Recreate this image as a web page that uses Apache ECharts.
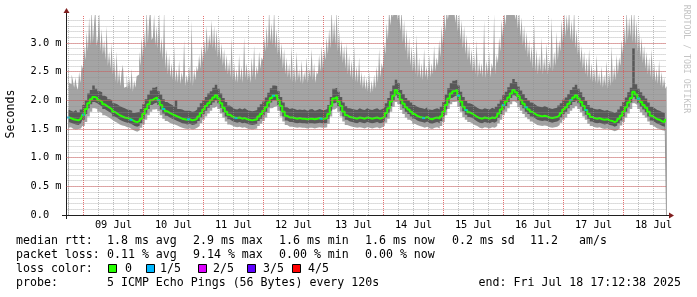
<!DOCTYPE html>
<html><head><meta charset="utf-8">
<script src="https://cdn.jsdelivr.net/npm/echarts@6/dist/echarts.min.js"></script>
<style>html,body{margin:0;padding:0;background:#fff}#c{width:697px;height:297px}</style>
</head><body><div id="c"></div>
<script>
// ---- time frame: hours counted from Jul 8 00:00
const firstHour = 18;                          // first sample: Jul 8 18:00
const startHour = 17 + 12 / 60 + 38 / 3600;    // Jul 8 17:12:38
const endHour = startHour + 240;               // Jul 18 17:12:38
const dayLabels = ['09 Jul','10 Jul','11 Jul','12 Jul','13 Jul','14 Jul','15 Jul','16 Jul','17 Jul','18 Jul'];
const yTop = 3.488;                            // top edge of the plot (ms)

// ---- median RTT (ms), hourly
const medianMs = [
 1.70,1.69,1.67,1.66,1.65,1.68,
 1.75,1.85,1.95,2.02,2.06,2.04,2.00,1.97,1.93,1.90,1.87,1.84,1.80,1.77,1.74,1.72,1.70,1.69,1.68,1.66,1.63,1.62,1.64,1.68,
 1.76,1.85,1.93,2.00,2.03,2.05,2.00,1.92,1.85,1.81,1.78,1.76,1.74,1.72,1.70,1.68,1.67,1.66,1.67,1.65,1.66,1.68,1.72,1.78,
 1.84,1.90,1.95,2.00,2.05,2.09,2.03,1.95,1.87,1.80,1.75,1.72,1.70,1.69,1.70,1.68,1.69,1.67,1.66,1.65,1.66,1.67,1.72,1.76,
 1.82,1.88,1.96,2.04,2.08,2.09,2.00,1.90,1.80,1.73,1.70,1.70,1.69,1.68,1.69,1.68,1.68,1.67,1.68,1.68,1.67,1.68,1.69,1.68,
 1.68,1.69,1.76,1.90,2.03,2.06,1.98,1.90,1.80,1.74,1.71,1.70,1.69,1.68,1.70,1.69,1.68,1.70,1.69,1.68,1.69,1.70,1.68,1.69,
 1.72,1.78,1.86,1.98,2.08,2.18,2.12,2.01,1.94,1.88,1.84,1.80,1.76,1.73,1.71,1.70,1.69,1.71,1.68,1.67,1.69,1.70,1.68,1.72,
 1.80,1.92,2.03,2.12,2.16,2.18,2.08,1.98,1.89,1.83,1.79,1.77,1.74,1.71,1.69,1.68,1.70,1.69,1.68,1.70,1.69,1.72,1.77,1.84,
 1.92,1.98,2.05,2.12,2.18,2.14,2.07,2.00,1.94,1.88,1.84,1.80,1.77,1.74,1.73,1.72,1.73,1.72,1.70,1.69,1.70,1.71,1.74,1.78,
 1.84,1.88,1.94,2.00,2.05,2.09,2.03,1.97,1.90,1.83,1.76,1.71,1.69,1.68,1.69,1.67,1.66,1.67,1.65,1.64,1.62,1.64,1.68,1.73,
 1.80,1.88,1.96,2.04,2.15,2.10,2.03,1.97,1.92,1.87,1.80,1.73,1.70,1.67,1.66,1.63,1.62,1.66
];
// ---- smoke: lowest ping (bottom of light smoke), hourly
const minMs = [
 1.52,1.53,1.50,1.49,1.50,1.51,
 1.55,1.62,1.72,1.80,1.86,1.85,1.80,1.78,1.74,1.72,1.69,1.66,1.63,1.61,1.58,1.56,1.55,1.53,1.52,1.49,1.47,1.45,1.48,1.52,
 1.58,1.66,1.74,1.80,1.84,1.85,1.81,1.74,1.68,1.64,1.61,1.59,1.58,1.56,1.54,1.52,1.51,1.50,1.51,1.49,1.50,1.52,1.55,1.60,
 1.66,1.72,1.77,1.82,1.87,1.90,1.85,1.77,1.70,1.63,1.58,1.56,1.54,1.53,1.54,1.52,1.53,1.51,1.50,1.49,1.50,1.51,1.55,1.59,
 1.64,1.70,1.78,1.86,1.89,1.90,1.82,1.72,1.63,1.57,1.54,1.54,1.53,1.52,1.53,1.52,1.52,1.51,1.52,1.52,1.51,1.52,1.53,1.52,
 1.52,1.53,1.59,1.72,1.84,1.87,1.80,1.72,1.63,1.57,1.55,1.54,1.53,1.52,1.53,1.52,1.51,1.53,1.52,1.51,1.52,1.53,1.51,1.53,
 1.55,1.61,1.68,1.80,1.89,1.97,1.93,1.83,1.76,1.70,1.66,1.63,1.59,1.57,1.55,1.54,1.52,1.54,1.51,1.50,1.52,1.53,1.51,1.55,
 1.62,1.74,1.85,1.93,1.97,1.98,1.89,1.80,1.71,1.66,1.62,1.60,1.57,1.55,1.52,1.51,1.53,1.52,1.51,1.53,1.52,1.55,1.60,1.66,
 1.74,1.80,1.86,1.93,1.98,1.95,1.88,1.82,1.76,1.71,1.67,1.63,1.60,1.57,1.56,1.55,1.56,1.55,1.53,1.52,1.53,1.54,1.57,1.61,
 1.66,1.70,1.76,1.82,1.86,1.90,1.85,1.79,1.72,1.66,1.59,1.55,1.53,1.52,1.53,1.51,1.50,1.51,1.49,1.48,1.46,1.48,1.51,1.56,
 1.62,1.70,1.77,1.85,1.95,1.92,1.85,1.79,1.74,1.70,1.63,1.57,1.54,1.51,1.50,1.48,1.47,1.50
];
// ---- smoke: 2nd ping (bottom of dark smoke), hourly
const lowMs = [
 1.62,1.61,1.59,1.58,1.57,1.60,
 1.66,1.76,1.86,1.93,1.97,1.95,1.92,1.89,1.85,1.82,1.79,1.76,1.72,1.69,1.66,1.64,1.62,1.61,1.60,1.58,1.55,1.54,1.56,1.60,
 1.68,1.77,1.85,1.92,1.95,1.96,1.92,1.84,1.77,1.73,1.70,1.68,1.66,1.64,1.62,1.60,1.59,1.58,1.59,1.57,1.58,1.60,1.64,1.70,
 1.76,1.82,1.87,1.92,1.96,2.00,1.95,1.87,1.79,1.72,1.67,1.64,1.62,1.61,1.62,1.60,1.61,1.59,1.58,1.57,1.58,1.59,1.64,1.68,
 1.74,1.80,1.88,1.96,2.00,2.00,1.92,1.82,1.72,1.65,1.62,1.62,1.61,1.60,1.61,1.60,1.60,1.59,1.60,1.60,1.59,1.60,1.61,1.60,
 1.60,1.61,1.68,1.82,1.95,1.97,1.90,1.82,1.72,1.66,1.63,1.62,1.61,1.60,1.62,1.61,1.60,1.62,1.61,1.60,1.61,1.62,1.60,1.61,
 1.64,1.70,1.78,1.90,2.00,2.09,2.04,1.93,1.86,1.80,1.76,1.72,1.68,1.65,1.63,1.62,1.61,1.63,1.60,1.59,1.61,1.62,1.60,1.64,
 1.72,1.84,1.95,2.04,2.07,2.09,2.00,1.90,1.81,1.75,1.71,1.69,1.66,1.63,1.61,1.60,1.62,1.61,1.60,1.62,1.61,1.64,1.69,1.76,
 1.84,1.90,1.97,2.04,2.09,2.06,1.99,1.92,1.86,1.80,1.76,1.72,1.69,1.66,1.65,1.64,1.65,1.64,1.62,1.61,1.62,1.63,1.66,1.70,
 1.76,1.80,1.86,1.92,1.97,2.00,1.95,1.89,1.82,1.75,1.68,1.63,1.61,1.60,1.61,1.59,1.58,1.59,1.57,1.56,1.54,1.56,1.60,1.65,
 1.72,1.80,1.88,1.96,2.06,2.02,1.95,1.89,1.84,1.79,1.72,1.65,1.62,1.59,1.58,1.55,1.54,1.58
];
// ---- smoke: 4th ping (top of dark smoke), hourly
const highMs = [
 1.84,1.82,1.80,1.83,1.79,1.84,
 1.92,2.00,2.12,2.18,2.26,2.20,2.16,2.14,2.08,2.06,2.02,2.00,1.95,1.93,1.90,1.88,1.86,1.84,1.83,1.82,1.78,1.79,1.80,1.85,
 1.93,2.02,2.10,2.17,2.22,2.24,2.16,2.10,2.02,1.97,1.94,1.92,1.89,2.00,1.85,1.84,1.82,1.82,1.82,1.80,1.81,1.84,1.88,1.95,
 2.00,2.06,2.12,2.16,2.22,2.27,2.20,2.12,2.04,1.97,1.91,1.88,1.85,1.84,1.86,1.84,1.86,1.83,1.82,1.81,1.82,1.83,1.88,1.93,
 1.98,2.05,2.13,2.21,2.26,2.25,2.16,2.06,1.96,1.88,1.85,1.86,1.85,1.83,1.84,1.83,1.84,1.82,1.84,1.85,1.82,1.83,1.85,1.83,
 1.83,1.85,1.92,2.06,2.20,2.22,2.15,2.06,1.96,1.90,1.86,1.85,1.84,1.83,1.86,1.84,1.83,1.86,1.84,1.83,1.85,1.86,1.83,1.85,
 1.88,1.95,2.04,2.16,2.26,2.36,2.30,2.18,2.11,2.04,2.00,1.96,1.92,1.89,1.87,1.86,1.85,1.88,1.84,1.83,1.85,1.86,1.84,1.89,
 1.97,2.10,2.21,2.30,2.34,2.36,2.26,2.15,2.06,1.99,1.95,1.93,1.90,1.87,1.85,1.84,1.86,1.85,1.84,1.87,1.85,1.89,1.94,2.01,
 2.09,2.15,2.23,2.30,2.37,2.32,2.24,2.17,2.11,2.04,2.00,1.96,1.93,1.90,1.89,1.88,1.90,1.88,1.86,1.85,1.86,1.87,1.91,1.95,
 2.01,2.05,2.11,2.18,2.23,2.27,2.20,2.14,2.06,1.99,1.92,1.87,1.85,1.84,1.85,1.83,1.82,1.83,1.81,1.80,1.78,1.80,1.84,1.90,
 1.97,2.05,2.14,2.22,2.91,2.28,2.20,2.14,2.08,2.03,1.96,1.89,1.86,1.83,1.82,1.79,1.78,1.82
];
// ---- smoke: highest ping (top of light smoke), every 30 minutes
const maxMs = [
 2.62,2.30,2.28,2.45,2.35,2.22,2.40,2.25,2.18,2.50,2.30,2.62,
 2.55,2.95,2.70,3.20,2.85,3.45,2.95,3.60,3.00,3.35,3.60,2.95,3.10,3.60,2.85,3.25,2.80,3.05,2.70,3.30,2.60,2.85,2.55,3.00,2.45,2.75,2.32,2.85,2.28,2.55,2.25,2.50,2.62,2.22,2.24,2.45,2.20,2.40,2.18,2.55,2.15,2.35,2.22,2.42,2.45,2.85,2.60,3.10,
 2.75,3.20,2.90,3.60,3.00,3.40,3.60,3.05,3.10,3.50,2.95,3.30,2.90,3.55,2.80,3.10,2.70,3.60,2.55,2.90,2.45,2.80,2.40,2.65,2.35,2.95,2.32,2.55,2.30,2.70,2.28,2.50,2.35,3.05,2.25,2.45,2.30,2.60,2.28,3.40,2.25,2.55,2.35,2.60,2.50,2.80,2.55,2.95,
 2.65,3.05,2.80,3.30,2.85,3.15,2.95,3.40,2.90,3.30,2.85,3.25,2.75,3.10,2.70,3.00,2.60,2.90,2.50,2.80,2.45,2.70,2.40,3.10,2.35,2.65,2.32,2.55,2.30,2.80,2.35,2.60,2.30,3.10,2.38,2.65,2.35,2.55,2.30,2.75,2.40,2.95,2.35,2.60,2.45,2.85,2.55,2.75,
 2.70,3.10,2.85,3.30,2.90,3.60,3.00,3.35,2.95,3.60,2.90,3.25,2.80,3.10,2.70,3.00,2.55,2.90,2.45,2.75,2.40,2.65,2.35,2.95,2.32,2.60,2.30,2.85,2.35,2.55,2.30,2.70,2.28,2.50,2.35,2.75,2.30,2.55,2.40,2.90,2.35,2.65,2.30,2.50,2.45,2.80,2.50,2.95,
 2.55,2.90,2.70,3.10,2.80,3.25,2.90,3.60,3.00,3.40,2.95,3.60,2.85,3.20,2.75,3.05,2.65,2.95,2.55,3.00,2.45,2.80,2.40,2.70,2.35,2.95,2.32,2.60,2.30,2.75,2.25,2.50,2.20,2.45,2.18,2.40,2.15,2.50,2.12,2.35,2.15,2.45,2.20,2.60,2.30,2.90,2.40,2.65,
 2.55,3.00,2.80,3.35,3.05,3.60,3.30,3.60,3.45,3.60,3.60,3.60,3.40,3.60,3.20,3.60,3.00,3.40,2.85,3.25,2.70,3.10,2.60,2.95,2.50,2.85,2.45,3.15,2.40,2.75,2.38,2.65,2.35,2.90,2.40,2.60,2.35,2.80,2.40,2.65,2.45,2.95,2.50,2.75,2.60,3.05,2.75,3.30,
 2.95,3.60,3.20,3.60,3.40,3.60,3.60,3.60,3.50,3.60,3.35,3.60,3.20,3.55,3.05,3.40,2.90,3.30,2.80,3.15,2.70,3.00,2.60,2.90,2.50,2.80,2.45,3.05,2.40,2.70,2.45,2.65,2.40,3.40,2.38,2.70,2.45,2.85,2.40,2.65,2.55,3.50,2.45,2.80,2.65,3.10,2.85,3.40,
 3.10,3.60,3.30,3.60,3.50,3.60,3.60,3.60,3.60,3.60,3.40,3.60,3.25,3.60,3.10,3.45,2.95,3.30,2.85,3.20,2.75,3.05,2.65,2.95,2.55,3.35,2.50,2.90,2.45,2.80,2.50,3.10,2.45,2.75,2.50,3.00,2.45,2.70,2.55,3.45,2.50,2.85,2.60,3.20,2.70,3.05,2.85,3.40,
 3.00,3.60,3.10,3.50,3.20,3.60,3.05,3.40,3.00,3.60,2.90,3.25,2.80,3.05,2.65,2.95,2.55,2.85,2.45,2.75,2.40,2.90,2.35,2.65,2.32,2.55,2.30,2.80,2.28,2.50,2.25,2.60,2.22,2.45,2.25,2.70,2.20,2.50,2.25,2.95,2.30,2.60,2.35,2.80,2.45,2.75,2.60,3.05,
 2.80,3.30,2.95,3.60,3.05,3.45,3.10,3.60,3.00,3.60,2.95,3.40,2.85,3.20,2.75,3.10,2.65,2.95,2.55,2.85,2.45,2.75,2.40,2.90,2.35,2.65,2.32,2.55,2.28,2.70,2.25,2.50,2.22,2.40,2.20,2.25
];
// ---- hours where 1 of 5 pings was lost
const loss1of5Hours = [18,24,43,54,56,66,85,100,119,160,174,177,192,201,219,225,246];

// ---- legend texts
const rttStats = ['1.8 ms avg','2.9 ms max','1.6 ms min','1.6 ms now','0.2 ms sd'];
const lossStats = ['0.11 % avg','9.14 % max','0.00 % min','0.00 % now'];
const lossLabels = ['0','1/5','2/5','3/5','4/5'];
const lossColors = ['#26ff00','#00b8ff','#dd00ff','#5e00ff','#ff0000'];

// ---------------------------------------------------------------
const pairs = arr => arr.map((v, i) => [firstHour + i, v]);
const pairsHalf = arr => arr.map((v, i) => [firstHour + i / 2, v]);

const mono = '"DejaVu Sans Mono", monospace';
const LIGHT = '#a4a4a4', DARK = '#585858';
const MINOR = 'rgba(143,143,143,0.6)', MAJOR = 'rgba(222,79,79,0.8)';
const minorStyle = {color: MINOR, width: 1, type: [1, 1]};
const majorStyle = {color: MAJOR, width: 1, type: [1, 1]};

// vertical grid: every 6 h, red at midnight
const vGrid = [];
for (let h = Math.ceil(startHour / 6) * 6; h < endHour; h += 6) {
  vGrid.push({xAxis: h, lineStyle: h % 24 === 0 ? majorStyle : minorStyle});
}
const labelHours = dayLabels.map((_, i) => 36 + 24 * i);
const isHalf = v => Math.abs(v * 2 - Math.round(v * 2)) < 1e-6;

function areaSeries(name, data, color) {
  return {
    name, type: 'line', step: 'middle', data, symbol: 'none', silent: true,
    lineStyle: {width: 0, opacity: 0},
    areaStyle: {color, opacity: 1, origin: 'start'},
    z: 2, animation: false
  };
}

function txt(x, y, s, o = {}) {
  return {
    type: 'text', x, y, rotation: o.rot || 0, silent: true, z: 20,
    style: {
      text: s, font: (o.size || 11.6) + 'px ' + mono, fill: o.fill || '#000',
      textAlign: o.align || 'left', align: o.align || 'left',
      textVerticalAlign: 'middle', verticalAlign: 'middle'
    }
  };
}

const graphics = [];
graphics.push({type: 'line', shape: {x1: 66.5, y1: 215, x2: 66.5, y2: 219}, style: {stroke: '#1f1f1f', lineWidth: 1}, silent: true, z: 20});
graphics.push({type: 'line', shape: {x1: 62, y1: 215.5, x2: 66, y2: 215.5}, style: {stroke: '#1f1f1f', lineWidth: 1}, silent: true, z: 20});
graphics.push({type: 'line', shape: {x1: 66.5, y1: 15, x2: 66.5, y2: 11}, style: {stroke: '#1f1f1f', lineWidth: 1}, silent: true, z: 20});
graphics.push({type: 'line', shape: {x1: 666, y1: 215.5, x2: 670, y2: 215.5}, style: {stroke: '#1f1f1f', lineWidth: 1}, silent: true, z: 20});
graphics.push({type: 'polygon', shape: {points: [[63.5, 13], [69.5, 13], [66.5, 8]]}, style: {fill: '#801f1f'}, silent: true, z: 21});
graphics.push({type: 'polygon', shape: {points: [[669, 212.5], [669, 218.5], [674, 215.5]]}, style: {fill: '#801f1f'}, silent: true, z: 21});

graphics.push(txt(11, 114, 'Seconds', {rot: Math.PI / 2, align: 'center'}));
graphics.push(txt(686, 59, 'RRDTOOL / TOBI OETIKER', {rot: -Math.PI / 2, align: 'center', size: 8.2, fill: '#c4c4c4'}));

const statX = [107, 193, 279, 365, 452];
graphics.push(txt(16, 241, 'median rtt:'));
rttStats.forEach((s, i) => graphics.push(txt(statX[i], 241, s)));
graphics.push(txt(530, 241, '11.2'));
graphics.push(txt(579, 241, 'am/s'));
graphics.push(txt(16, 255, 'packet loss:'));
lossStats.forEach((s, i) => graphics.push(txt(statX[i], 255, s)));
graphics.push(txt(16, 269, 'loss color:'));
const boxX = [108, 146, 198, 247, 292];
const boxLabelX = [125, 160, 213, 263, 308];
lossLabels.forEach((s, i) => {
  graphics.push({type: 'rect', shape: {x: boxX[i] + 0.5, y: 264.5, width: 8, height: 8},
    style: {fill: lossColors[i], stroke: '#000', lineWidth: 1}, silent: true, z: 20});
  graphics.push(txt(boxLabelX[i], 269, s));
});
graphics.push(txt(16, 283, 'probe:'));
graphics.push(txt(107, 283, '5 ICMP Echo Pings (56 Bytes) every 120s'));
graphics.push(txt(681, 283, 'end: Fri Jul 18 17:12:38 2025', {align: 'right'}));

const chart = echarts.init(document.getElementById('c'), null, {renderer: 'canvas', width: 697, height: 297});
chart.setOption({
  animation: false,
  backgroundColor: '#ffffff',
  textStyle: {fontFamily: mono},
  grid: {left: 66.53, right: 30.47, top: 15, bottom: 82, containLabel: false, outerBoundsMode: 'none'},
  xAxis: {
    type: 'value', min: startHour, max: endHour, z: 10,
    axisLine: {show: true, onZero: false, lineStyle: {color: '#1f1f1f', width: 1}},
    axisTick: {show: false},
    splitLine: {show: false},
    axisLabel: {
      customValues: labelHours,
      formatter: v => dayLabels[Math.round((v - 36) / 24)] || '',
      fontFamily: mono, fontSize: 10.3, color: '#000', margin: 5
    }
  },
  yAxis: [
    {
      type: 'value', min: 0, max: yTop, interval: 0.1, z: 10,
      axisLine: {show: true, lineStyle: {color: '#1f1f1f', width: 1}},
      axisTick: {show: false},
      splitLine: {show: true, showMinLine: false, showMaxLine: false, lineStyle: minorStyle},
      axisLabel: {
        showMaxLabel: false,
        formatter: v => (!isHalf(v) || v > 3.2) ? '' : (v === 0 ? '0.0  ' : v.toFixed(1) + ' m'),
        fontFamily: mono, fontSize: 10.3, color: '#000', margin: 5
      }
    },
    {
      type: 'value', min: 0, max: yTop, interval: 0.5, z: 11, position: 'left',
      axisLine: {show: false}, axisTick: {show: false}, axisLabel: {show: false},
      splitLine: {show: true, showMinLine: false, showMaxLine: false, lineStyle: majorStyle}
    }
  ],
  series: [
    areaSeries('smoke-max', pairsHalf(maxMs), LIGHT),
    areaSeries('smoke-high', pairs(highMs), DARK),
    areaSeries('smoke-low', pairs(lowMs), LIGHT),
    areaSeries('smoke-min', pairs(minMs), '#ffffff'),
    {
      name: 'median', type: 'line', step: 'middle', data: pairs(medianMs), symbol: 'none', silent: true,
      lineStyle: {color: lossColors[0], width: 2}, z: 3, animation: false
    },
    {
      name: 'loss 1/5', type: 'scatter', symbol: 'rect', symbolSize: [3, 2], silent: true,
      data: loss1of5Hours.map(h => [h, medianMs[h - firstHour]]),
      itemStyle: {color: lossColors[1]}, z: 4, animation: false,
      markLine: {silent: true, symbol: ['none', 'none'], label: {show: false}, animation: false,
        emphasis: {disabled: true}, data: vGrid}
    }
  ],
  graphic: graphics
});
</script>
</body></html>
